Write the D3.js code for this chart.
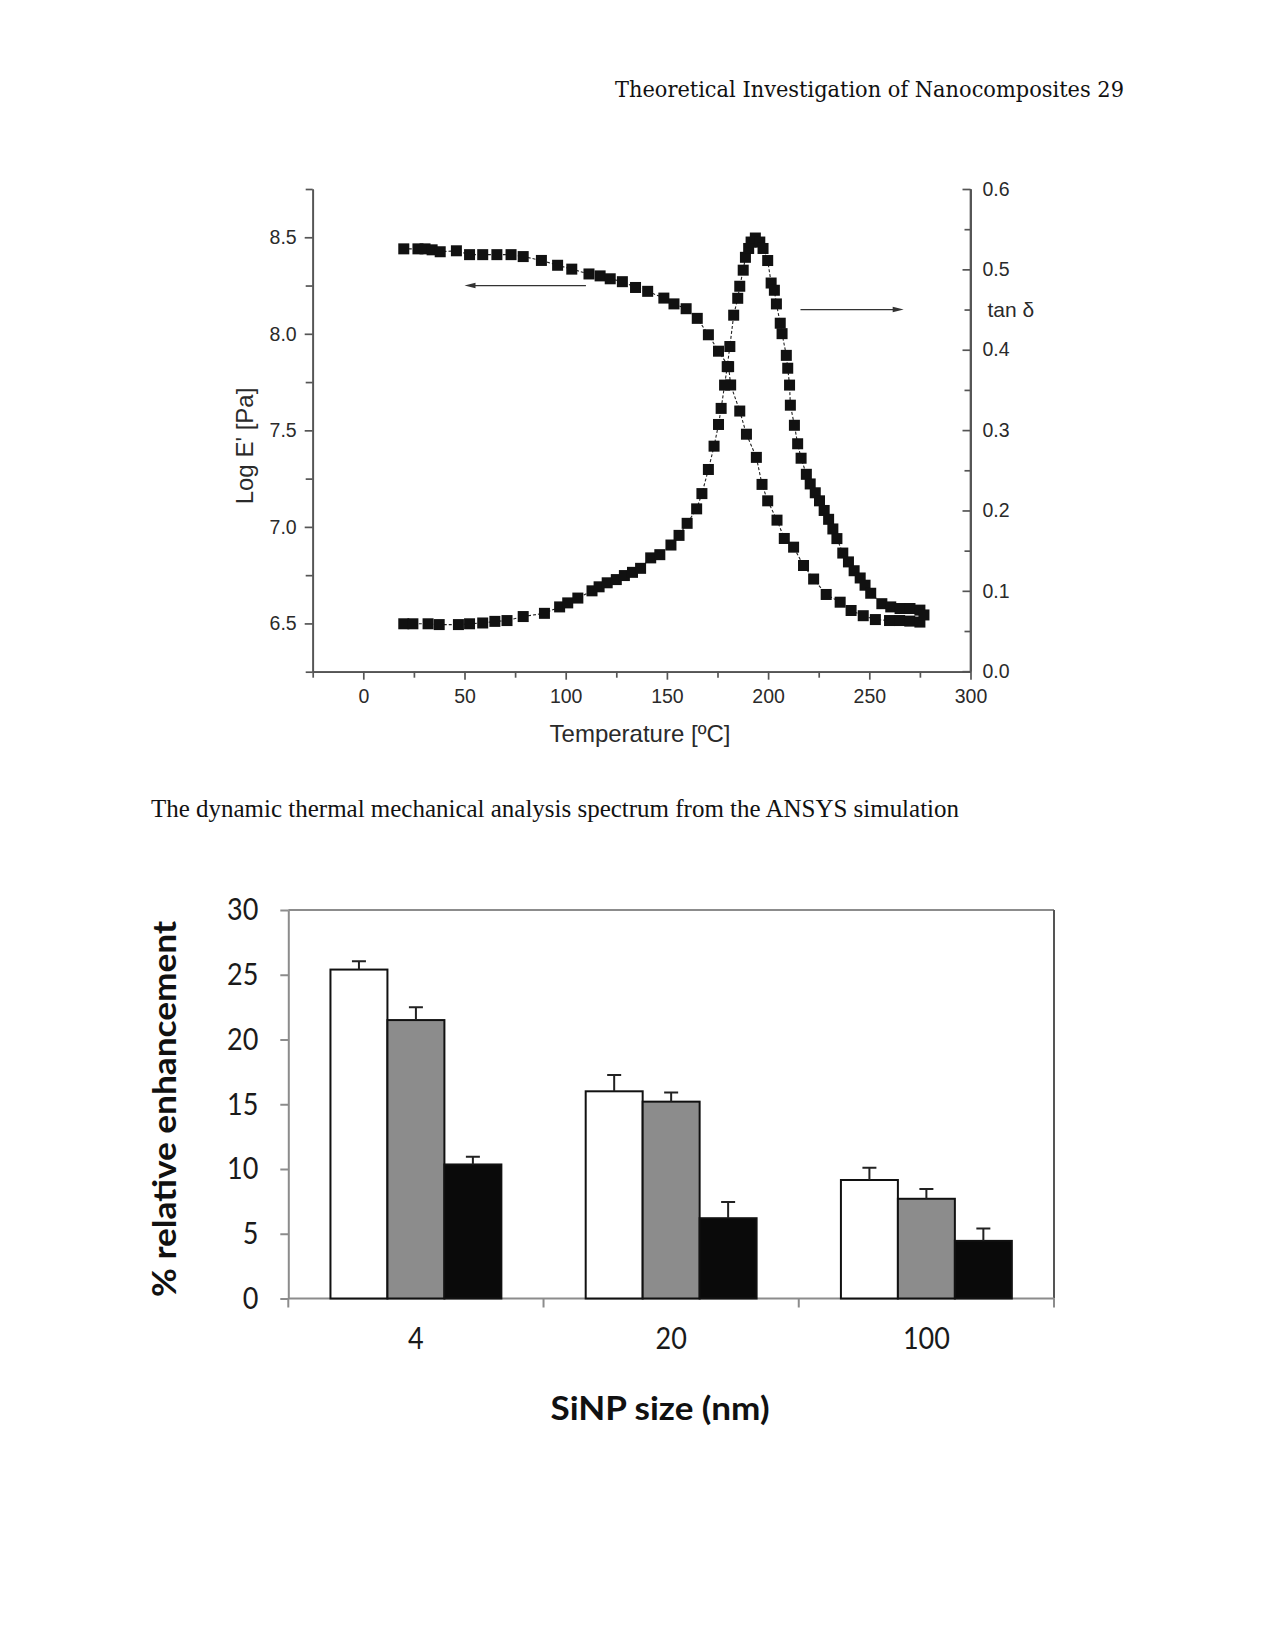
<!DOCTYPE html>
<html><head><meta charset="utf-8">
<script src="https://cdn.jsdelivr.net/npm/d3@7"></script>
<style>body{margin:0;background:#fff}svg{display:block}</style>
</head><body>
<script>
// ---------- DATA ----------
const tempE = [20,27,30.5,34,38,46,52.5,59,66,73,79,88,96,103,111.5,117,122,128,134.5,140.5,148.5,153.5,159.5,165,170.5,175.5,180.5,181.5,186,189.3,194.2,197,199.8,204.4,208,212.6,217.5,222.5,228.7,235.6,241,247,253,260,265,270,275];
const logE = [8.44,8.44,8.44,8.435,8.425,8.43,8.41,8.41,8.41,8.41,8.40,8.38,8.355,8.335,8.31,8.30,8.285,8.27,8.24,8.22,8.185,8.155,8.13,8.08,7.995,7.91,7.83,7.735,7.60,7.48,7.36,7.22,7.135,7.035,6.94,6.895,6.80,6.73,6.65,6.61,6.567,6.54,6.52,6.515,6.515,6.512,6.507];
const tempTan = [20,24.5,32,37.5,47,52.5,59,65,71,79,89.5,97,101,106,113,116.5,120.5,125,129,133,137,142,146.5,152,156,160,164.7,167.3,170.5,173.3,175.5,176.8,178.5,179.8,181.1,183,185,186,187.7,188.8,190.4,191.6,193.7,195.9,197.5,199.8,201.5,203.1,204.1,206,206.9,209,209.7,210.6,211,213,214.6,216.3,218.9,220.8,223.3,225.4,227.7,229.9,232,234,236.9,239.7,242.5,245.5,247.9,250.7,256.2,260.6,265.2,270.1,275,277];
const tanDelta = [0.059,0.059,0.059,0.058,0.058,0.059,0.060,0.062,0.063,0.068,0.072,0.080,0.085,0.091,0.100,0.105,0.110,0.114,0.119,0.123,0.128,0.141,0.145,0.157,0.169,0.184,0.202,0.221,0.251,0.280,0.307,0.327,0.356,0.379,0.404,0.443,0.464,0.479,0.499,0.515,0.526,0.534,0.539,0.534,0.526,0.511,0.483,0.474,0.457,0.433,0.420,0.393,0.377,0.356,0.331,0.306,0.283,0.265,0.245,0.233,0.222,0.212,0.200,0.189,0.177,0.165,0.147,0.136,0.125,0.116,0.107,0.097,0.084,0.080,0.078,0.078,0.076,0.070];
const tempTicks = [0,50,100,150,200,250,300];
const tempMinor = [-25,25,75,125,175,225,275];
const logETicks = [6.5,7.0,7.5,8.0,8.5];
const logEMinor = [6.25,6.75,7.25,7.75,8.25,8.75];
const tanTicks = [0,0.1,0.2,0.3,0.4,0.5,0.6];
const tanMinor = [0.05,0.15,0.25,0.35,0.45,0.55];
const arrowLeft = {from:110, to:50, value:8.25};     // points to log E' axis
const arrowRight = {from:216, to:267, value:0.45};  // points to tan δ axis

const sizes = ["4","20","100"];
const seriesNames = ["s1","s2","s3"];
const valuesS1 = [25.4, 16.0, 9.15];
const valuesS2 = [21.5, 15.2, 7.7];
const valuesS3 = [10.35, 6.2, 4.45];
const errS1 = [0.65, 1.25, 0.95];
const errS2 = [1.0, 0.7, 0.75];
const errS3 = [0.6, 1.25, 0.95];
const enhTicks = [0,5,10,15,20,25,30];

const headerText = "Theoretical Investigation of Nanocomposites 29";
const captionText = "The dynamic thermal mechanical analysis spectrum from the ANSYS simulation";

// ---------- PAGE ----------
const W = 1275, H = 1651;
const svg = d3.select("body").append("svg").attr("width", W).attr("height", H);
svg.append("rect").attr("width", W).attr("height", H).attr("fill", "#fff");

svg.append("text").text(headerText)
  .attr("x", 615).attr("y", 97)
  .attr("font-family", "'DejaVu Serif', serif").attr("font-size", 23)
  .attr("textLength", 509).attr("lengthAdjust", "spacingAndGlyphs")
  .attr("fill", "#111");

svg.append("text").text(captionText)
  .attr("x", 151).attr("y", 817)
  .attr("font-family", "'Liberation Serif', 'Times New Roman', serif").attr("font-size", 25)
  .attr("textLength", 808).attr("lengthAdjust", "spacingAndGlyphs")
  .attr("fill", "#111");

// ---------- TOP CHART ----------
const axisCol = "#555", txtCol = "#2a2a2a";
const sans = "'Liberation Sans', Arial, sans-serif";
const x = d3.scaleLinear([-25, 300], [312.7, 970.5]);
const yL = d3.scaleLinear([6.25, 8.75], [671.7, 189]);
const yR = d3.scaleLinear([0, 0.6], [671.2, 189]);
const topG = svg.append("g");

function styleAxis(g){
  g.selectAll("path,line").attr("stroke", axisCol).attr("stroke-width", 1.7);
  g.selectAll("text").attr("font-family", sans).attr("font-size", 19.5).attr("fill", txtCol);
}
topG.append("g").attr("transform", `translate(0,${yL.range()[0]})`)
  .call(d3.axisBottom(x).tickValues(tempTicks).tickFormat(d3.format("d")).tickSize(8).tickPadding(9).tickSizeOuter(0))
  .call(styleAxis);
topG.append("g").attr("transform", `translate(0,${yL.range()[0]})`)
  .call(d3.axisBottom(x).tickValues(tempMinor).tickFormat("").tickSize(6).tickSizeOuter(0))
  .call(styleAxis);
topG.append("g").attr("transform", `translate(${x.range()[0]},0)`)
  .call(d3.axisLeft(yL).tickValues(logETicks).tickFormat(d3.format(".1f")).tickSize(8).tickPadding(8).tickSizeOuter(0))
  .call(styleAxis);
topG.append("g").attr("transform", `translate(${x.range()[0]},0)`)
  .call(d3.axisLeft(yL).tickValues(logEMinor).tickFormat("").tickSize(7).tickSizeOuter(0))
  .call(styleAxis);
topG.append("g").attr("transform", `translate(${x.range()[1]},0)`)
  .call(d3.axisRight(yR).tickValues(tanTicks).tickFormat(d3.format(".1f")).tickSize(-8).tickPadding(12).tickSizeOuter(0))
  .call(styleAxis);
topG.append("g").attr("transform", `translate(${x.range()[1]},0)`)
  .call(d3.axisRight(yR).tickValues(tanMinor).tickFormat("").tickSize(-6).tickSizeOuter(0))
  .call(styleAxis);
topG.append("line").attr("x1", x.range()[1]).attr("x2", x.range()[1])
  .attr("y1", yL.range()[1]).attr("y2", yL.range()[0]).attr("stroke", axisCol).attr("stroke-width", 1.7);

topG.append("text").text("Temperature [ºC]")
  .attr("x", 640).attr("y", 742).attr("text-anchor", "middle")
  .attr("font-family", sans).attr("font-size", 24).attr("fill", txtCol);
topG.append("text").text("Log E' [Pa]")
  .attr("transform", "translate(253,446) rotate(-90)").attr("text-anchor", "middle")
  .attr("font-family", sans).attr("font-size", 24).attr("fill", txtCol);
topG.append("text").text("tan δ")
  .attr("x", x.range()[1] + 17).attr("y", yR(arrowRight.value)).attr("dy", "0.35em")
  .attr("font-family", sans).attr("font-size", 21).attr("fill", txtCol);

const lineE = d3.line().x((d,i)=>x(tempE[i])).y((d,i)=>yL(logE[i]));
const lineT = d3.line().x((d,i)=>x(tempTan[i])).y((d,i)=>yR(tanDelta[i]));
topG.append("path").attr("d", lineE(logE)).attr("fill","none").attr("stroke","#222").attr("stroke-width",1.1).attr("stroke-dasharray","3,2");
topG.append("path").attr("d", lineT(tanDelta)).attr("fill","none").attr("stroke","#222").attr("stroke-width",1.1).attr("stroke-dasharray","3,2");
const ms = 11;
topG.append("g").selectAll("rect").data(logE).join("rect")
  .attr("x",(d,i)=>x(tempE[i])-ms/2).attr("y",d=>yL(d)-ms/2)
  .attr("width",ms).attr("height",ms).attr("fill","#111");
topG.append("g").selectAll("rect").data(tanDelta).join("rect")
  .attr("x",(d,i)=>x(tempTan[i])-ms/2).attr("y",d=>yR(d)-ms/2)
  .attr("width",ms).attr("height",ms).attr("fill","#111");

function arrow(x1, x2, y){
  const dir = Math.sign(x2 - x1);
  topG.append("line").attr("x1", x1).attr("x2", x2 - dir*8).attr("y1", y).attr("y2", y)
    .attr("stroke", "#333").attr("stroke-width", 1.3);
  topG.append("path").attr("d", `M${x2},${y} L${x2 - dir*11},${y-2.8} L${x2 - dir*11},${y+2.8} Z`).attr("fill", "#333");
}
arrow(x(arrowLeft.from), x(arrowLeft.to), yL(arrowLeft.value));
arrow(x(arrowRight.from), x(arrowRight.to), yR(arrowRight.value));

// ---------- BOTTOM CHART ----------
const calib = "Lato, 'Open Sans', sans-serif";
const frameCol = "#8c8c8c";
const xB = d3.scaleBand(sizes, [288.3, 1054]).paddingInner(0).paddingOuter(0);
const xS = d3.scaleBand(seriesNames, [0, xB.bandwidth()]).paddingInner(0).paddingOuter(0.74);
const yB = d3.scaleLinear([0, 30], [1298.5, 910]);
const bot = svg.append("g");
const seriesVals = [valuesS1, valuesS2, valuesS3];
const seriesErr = [errS1, errS2, errS3];
const fills = ["#ffffff", "#8c8c8c", "#0a0a0a"];

const [bx0, bx1] = xB.range(), [by0, by1] = yB.range();
bot.append("line").attr("x1",bx0).attr("x2",bx1).attr("y1",by1).attr("y2",by1).attr("stroke",frameCol).attr("stroke-width",2);
bot.append("line").attr("x1",bx1).attr("x2",bx1).attr("y1",by1).attr("y2",by0).attr("stroke","#555").attr("stroke-width",2);
bot.append("line").attr("x1",bx0).attr("x2",bx1).attr("y1",by0).attr("y2",by0).attr("stroke",frameCol).attr("stroke-width",2);
bot.append("g").selectAll("line").data(sizes.map(s=>xB(s)).concat([bx1])).join("line")
  .attr("x1",d=>d).attr("x2",d=>d).attr("y1",by0).attr("y2",by0+9)
  .attr("stroke",frameCol).attr("stroke-width",2);
bot.append("g").attr("transform",`translate(${bx0},0)`)
  .call(d3.axisLeft(yB).tickValues(enhTicks).tickFormat(d3.format("d")).tickSize(8).tickPadding(22).tickSizeOuter(0))
  .call(g=>{
    g.selectAll("path,line").attr("stroke",frameCol).attr("stroke-width",2);
    g.selectAll("text").attr("font-family",calib).attr("font-size",27).attr("fill","#1a1a1a")
      .attr("transform","scale(1,1.15)");
  });
bot.append("g").selectAll("text").data(sizes).join("text")
  .text(d=>d)
  .attr("transform",d=>`translate(${xB(d)+xB.bandwidth()/2},1349) scale(1,1.15)`)
  .attr("text-anchor","middle")
  .attr("font-family",calib).attr("font-size",27).attr("fill","#1a1a1a");

seriesNames.forEach((s, si) => {
  const g = bot.append("g");
  g.selectAll("rect").data(sizes).join("rect")
    .attr("x", d => xB(d) + xS(s))
    .attr("y", (d,i) => yB(seriesVals[si][i]))
    .attr("width", xS.bandwidth())
    .attr("height", (d,i) => yB(0) - yB(seriesVals[si][i]))
    .attr("fill", fills[si]).attr("stroke", "#111").attr("stroke-width", 2);
  g.selectAll("path.err").data(sizes).join("path").attr("class","err")
    .attr("d", (d,i) => {
      const cx = xB(d) + xS(s) + xS.bandwidth()/2;
      const y0 = yB(seriesVals[si][i]), y1 = yB(seriesVals[si][i] + seriesErr[si][i]);
      return `M${cx},${y0}V${y1}M${cx-7},${y1}H${cx+7}`;
    })
    .attr("fill","none").attr("stroke","#222").attr("stroke-width",2);
});

bot.append("text").text("% relative enhancement")
  .attr("transform", "translate(176,1109) rotate(-90)").attr("text-anchor","middle")
  .attr("font-family",calib).attr("font-weight","bold").attr("font-size",33)
  .attr("textLength",376).attr("lengthAdjust","spacingAndGlyphs").attr("fill","#111");
bot.append("text").text("SiNP size (nm)")
  .attr("transform","translate(660,1420)").attr("text-anchor","middle")
  .attr("font-family",calib).attr("font-weight","bold").attr("font-size",32)
  .attr("textLength",219).attr("lengthAdjust","spacingAndGlyphs").attr("fill","#111");
</script>
</body></html>
